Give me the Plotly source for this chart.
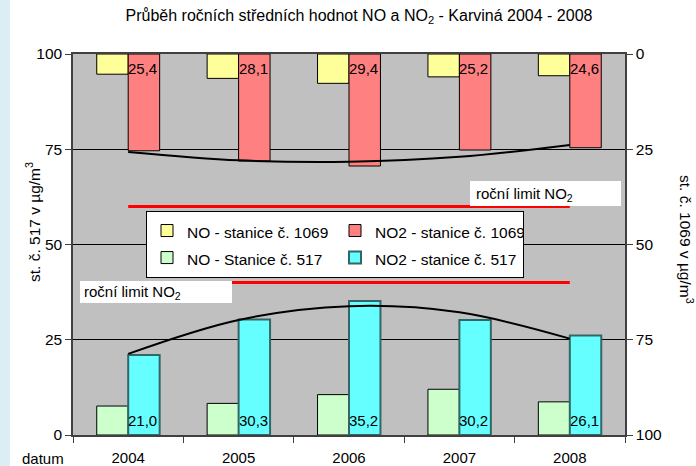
import plotly.graph_objects as go

years = ["2004", "2005", "2006", "2007", "2008"]
no_1069 = [5.3, 6.4, 7.7, 6.0, 5.7]
no2_1069 = [25.4, 28.1, 29.4, 25.2, 24.6]
no_517 = [7.6, 8.3, 10.6, 12.0, 8.7]
no2_517 = [21.0, 30.3, 35.2, 30.2, 26.1]
trend_1069 = [25.7, 27.9, 28.3, 27.0, 23.9]
trend_517 = [21.3, 30.2, 33.8, 32.2, 25.3]
limit_no2 = [40, 40, 40, 40, 40]
y_ticks = [0, 25, 50, 75, 100]
series_names = ["NO - stanice č. 1069", "NO2 - stanice č. 1069",
                "NO - Stanice č. 517", "NO2 - stanice č. 517"]

FONT = "Arial, Liberation Sans, sans-serif"
BW = 0.285

def lname(s):
    return "<span style='font-size:15.5px'>" + s + "</span>"

fig = go.Figure()

fig.add_trace(go.Bar(name=lname(series_names[0]), x=years, y=no_1069, yaxis="y2",
                     width=BW, offset=-BW, marker=dict(color="#FFFF99", line=dict(color="black", width=1))))
fig.add_trace(go.Bar(name=lname(series_names[1]), x=years, y=no2_1069, yaxis="y2",
                     width=BW, offset=0, marker=dict(color="#FF8080", line=dict(color="black", width=1))))
fig.add_trace(go.Bar(name=lname(series_names[2]), x=years, y=no_517, yaxis="y",
                     width=BW, offset=-BW, marker=dict(color="#CCFFCC", line=dict(color="black", width=1))))
fig.add_trace(go.Bar(name=lname(series_names[3]), x=years, y=no2_517, yaxis="y",
                     width=BW, offset=0, marker=dict(color="#66FFFF", line=dict(color="#336666", width=2))))

# limit lines
fig.add_trace(go.Scatter(x=years, y=limit_no2, yaxis="y", mode="lines", showlegend=False,
                         line=dict(color="#FF0000", width=3), hoverinfo="skip"))
fig.add_trace(go.Scatter(x=years, y=limit_no2, yaxis="y2", mode="lines", showlegend=False,
                         line=dict(color="#FF0000", width=3), hoverinfo="skip"))
# trend lines
fig.add_trace(go.Scatter(x=years, y=trend_1069, yaxis="y2", mode="lines", showlegend=False,
                         line=dict(color="black", width=2, shape="spline"), hoverinfo="skip"))
fig.add_trace(go.Scatter(x=years, y=trend_517, yaxis="y", mode="lines", showlegend=False,
                         line=dict(color="black", width=2, shape="spline"), hoverinfo="skip"))

def fmt(v):
    return f"{v:.1f}".replace(".", ",")

annotations = []
for i, v in enumerate(no2_1069):
    annotations.append(dict(x=i, y=0, xref="x", yref="y2", text=fmt(v), showarrow=False,
                            xanchor="left", yanchor="top", xshift=-2, yshift=-4,
                            font=dict(family=FONT, size=15, color="black")))
for i, v in enumerate(no2_517):
    annotations.append(dict(x=i, y=0, xref="x", yref="y", text=fmt(v), showarrow=False,
                            xanchor="left", yanchor="bottom", xshift=-2, yshift=4,
                            font=dict(family=FONT, size=15, color="black")))

PL, PW, PB, PH = 73, 552, 435, 381
def px(x):
    return (x - PL) / PW
def py(y):
    return (PB - y) / PH

annotations += [
    dict(x=px(33), y=py(222), xref="paper", yref="paper", text="st. č. 517 v µg/m<sup>3</sup>",
         textangle=-90, showarrow=False, xanchor="center", yanchor="middle",
         font=dict(family=FONT, size=15.5, color="black")),
    dict(x=px(686), y=py(239), xref="paper", yref="paper", text="st. č. 1069 v µg/m<sup>3</sup>",
         textangle=90, showarrow=False, xanchor="center", yanchor="middle",
         font=dict(family=FONT, size=15.5, color="black")),
    dict(x=px(43), y=py(458), xref="paper", yref="paper", text="datum", showarrow=False,
         xanchor="center", yanchor="middle", font=dict(family=FONT, size=15, color="black")),
    dict(x=px(474), y=py(194), xref="paper", yref="paper", text="roční limit NO<sub>2</sub>",
         showarrow=False, xanchor="left", yanchor="middle", font=dict(family=FONT, size=15, color="black")),
    dict(x=px(82), y=py(292), xref="paper", yref="paper", text="roční limit NO<sub>2</sub>",
         showarrow=False, xanchor="left", yanchor="middle", font=dict(family=FONT, size=15, color="black")),
]

shapes = [
    dict(type="rect", xref="paper", yref="paper", x0=px(0), x1=px(10), y0=py(466), y1=py(0),
         fillcolor="#DCEEF3", line=dict(width=0), layer="below"),
    dict(type="rect", xref="paper", yref="paper", x0=px(470), x1=px(621), y0=py(206), y1=py(181),
         fillcolor="white", line=dict(width=0), layer="above"),
    dict(type="rect", xref="paper", yref="paper", x0=px(80), x1=px(232), y0=py(303), y1=py(281),
         fillcolor="white", line=dict(width=0), layer="above"),
]

fig.update_layout(
    width=696, height=466, autosize=False,
    margin=dict(l=73, r=71, t=54, b=31, pad=0, autoexpand=False),
    paper_bgcolor="white", plot_bgcolor="#C0C0C0",
    font=dict(family=FONT, color="black"),
    barmode="overlay",
    title=dict(text="Průběh ročních středních hodnot NO a NO<sub>2</sub> - Karviná 2004 - 2008",
               x=359 / 696, xanchor="center", xref="container", y=1 - 15 / 466, yanchor="middle",
               yref="container", automargin=False, font=dict(family=FONT, size=16, color="black")),
    xaxis=dict(type="category", tickson="boundaries", ticks="outside", ticklen=6, tickcolor="#404040",
               showline=True, linecolor="#404040", linewidth=1.5, mirror=True, showgrid=False,
               automargin=False, ticklabelstandoff=8,
               tickfont=dict(family=FONT, size=15, color="black"), range=[-0.5, 4.5]),
    yaxis=dict(range=[0, 100], tickvals=y_ticks, ticks="outside", ticklen=6, tickcolor="#404040",
               showline=True, linecolor="#404040", linewidth=1.5, mirror=True, automargin=False,
               showgrid=True, gridcolor="black", gridwidth=1, zeroline=False,
               tickfont=dict(family=FONT, size=15.5, color="black")),
    yaxis2=dict(range=[100, 0], tickvals=y_ticks, overlaying="y", side="right", ticks="outside",
                ticklen=6, tickcolor="#404040", showline=True, linecolor="#404040", linewidth=1.5,
                automargin=False, showgrid=False, zeroline=False,
                tickfont=dict(family=FONT, size=15.5, color="black")),
    legend=dict(orientation="h", x=px(146), y=py(211), xanchor="left", yanchor="top",
                bgcolor="white", bordercolor="black", borderwidth=1, entrywidth=143,
                font=dict(family=FONT, size=18.5, color="black"), traceorder="normal"),
    annotations=annotations, shapes=shapes,
)

fig.write_html("out.html", config={"displayModeBar": False},
               post_script="document.body.style.margin='0';document.body.style.overflow='hidden';")
